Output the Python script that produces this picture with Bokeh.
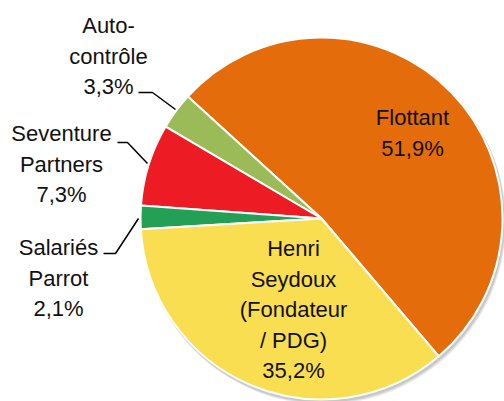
import math
from bokeh.plotting import figure
from bokeh.models import Range1d
from bokeh.core.properties import value
from bokeh.embed import file_html
from bokeh.resources import INLINE

# ---- data ----
categories = ["Flottant", "Auto-contrôle", "Seventure Partners", "Salariés Parrot",
              "Henri Seydoux (Fondateur / PDG)"]
shares = [51.9, 3.3, 7.3, 2.1, 35.2]
share_labels = ["51,9%", "3,3%", "7,3%", "2,1%", "35,2%"]
colors = ["#E46C0A", "#9BBB59", "#ED1C24", "#23A055", "#FADE52"]
label_lines = [["Flottant"], ["Auto-", "contrôle"], ["Seventure", "Partners"],
               ["Salariés", "Parrot"], ["Henri", "Seydoux", "(Fondateur", "/ PDG)"]]

W, H = 504, 401
def sy(y):  # screen y -> data y
    return H - y

p = figure(width=W, height=H, output_backend="svg", toolbar_location=None,
           x_range=Range1d(0, W), y_range=Range1d(0, H), min_border=0)
p.axis.visible = False
p.grid.visible = False
p.outline_line_color = None
p.background_fill_color = "white"

cx, cy, r = 321, sy(218), 181
start0 = math.radians(-49.6)
total = sum(shares)
starts, ends = [], []
a = start0
for s in shares:
    starts.append(a)
    a += 2 * math.pi * s / total
    ends.append(a)

# soft shadow
for off, alpha in [(4, 0.10), (3, 0.12), (2, 0.15)]:
    p.circle(x=cx + off * 0.6, y=cy - off, radius=r + 1, fill_color="#555555",
             fill_alpha=alpha, line_color=None)

p.wedge(x=[cx] * len(shares), y=[cy] * len(shares), radius=r,
        start_angle=starts, end_angle=ends, fill_color=colors,
        line_color="white", line_width=2)

# ---- labels (layout) ----
font = value("Liberation Sans")
fs = "22px"
lh = 30.5
anchors = {
    0: (412, 117),
    1: (108, 25),
    2: (61, 133),
    3: (58, 247),
    4: (293, 248),
}
for i, lines in enumerate(label_lines):
    x0, y0 = anchors[i]
    all_lines = lines + [share_labels[i]]
    p.text(x=[x0] * len(all_lines), y=[sy(y0 + k * lh) for k in range(len(all_lines))],
           text=all_lines, text_font=font, text_font_size=fs, text_color="#111111",
           text_align="center", text_baseline="middle")

# leader lines
leaders = [
    [(138, 92), (152, 92), (175, 109)],
    [(117, 142), (127, 142), (147, 163)],
    [(103, 253), (115, 253), (138, 218)],
]
for pts in leaders:
    p.line(x=[q[0] for q in pts], y=[sy(q[1]) for q in pts], line_color="black",
           line_width=1.5)

open("out.html", "w").write(file_html(p, INLINE))
